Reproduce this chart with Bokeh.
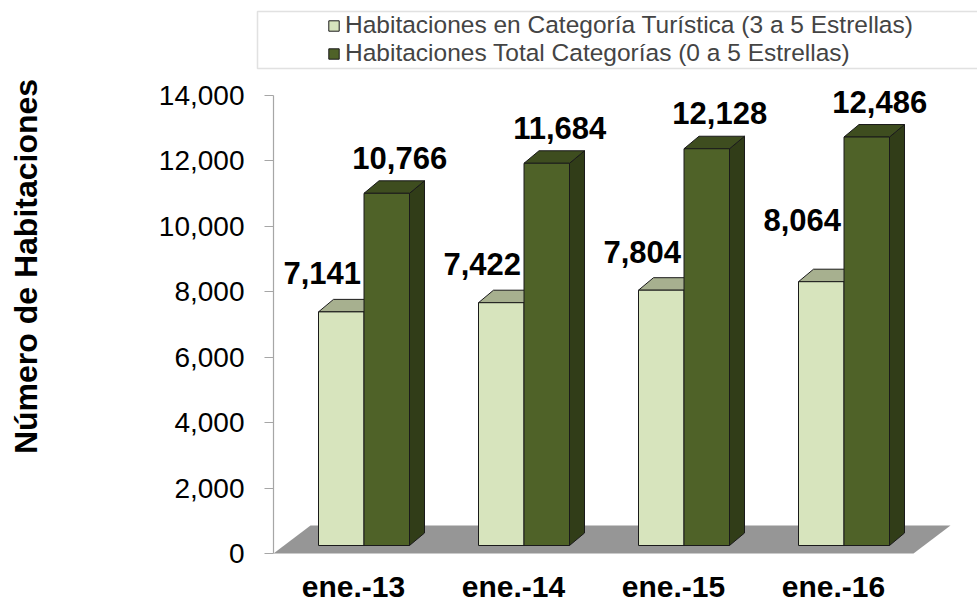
from bokeh.plotting import figure
from bokeh.models import (ColumnDataSource, FixedTicker, NumeralTickFormatter, Legend,
                          LegendItem, BoxAnnotation, Range1d)
from bokeh.core.properties import value
from bokeh.embed import file_html
from bokeh.resources import INLINE

# ---------------- data ----------------
categories = ["ene.-13", "ene.-14", "ene.-15", "ene.-16"]
turistica = [7141, 7422, 7804, 8064]
total = [10766, 11684, 12128, 12486]
series_names = ["Habitaciones en Categoría Turística (3 a 5 Estrellas)",
                "Habitaciones Total Categorías (0 a 5 Estrellas)"]
y_ticks = [0, 2000, 4000, 6000, 8000, 10000, 12000, 14000]
y_title = "Número de Habitaciones"

# ---------------- layout / style (pixels) ----------------
W, H = 977, 603
AXIS_X = 273              # px of the value axis line (x = 0)
ZERO_Y = 553              # px of y = 0
PX_X = 160.0              # px per category
PX_Y = 458.0 / 14000.0    # px per unit of value

x_start = -AXIS_X / PX_X
x_end = (W - AXIS_X) / PX_X
y_start = -(H - ZERO_Y) / PX_Y
y_end = ZERO_Y / PX_Y


def dx(px):
    return px / PX_X


def dy(px):
    return px / PX_Y


BAR_W = dx(45.5)
OFF_X, OFF_Y = dx(10.5), dy(8)
DEP_X, DEP_Y = dx(15), dy(12.5)
FLOOR_X, FLOOR_Y = dx(37), dy(28)

FONT = "Liberation Sans"
colors = {
    0: dict(front="#d7e4bd", top="#a7b08f", side="#98a183"),
    1: dict(front="#4f6228", top="#3e4d1f", side="#313d18"),
}
EDGE = "#1a1a1a"
AXIS_GREY = "#a6a6a6"
label_dx_px = {0: -19, 1: 13}
label_mid_px = {0: 38.5, 1: 35.5}
extra_lift_px = {0: [0, 0, 0, 23], 1: [0, 0, 0, 0]}

p = figure(width=W, height=H, x_range=Range1d(x_start, x_end), y_range=Range1d(y_start, y_end),
           output_backend="svg", toolbar_location=None, x_axis_location=None,
           min_border_left=0, min_border_right=0, min_border_top=0,
           min_border_bottom=0)
p.grid.visible = False
p.outline_line_color = None
p.background_fill_color = "white"
p.border_fill_color = "white"

n = len(categories)

# floor
p.patch([0, n, n + FLOOR_X, FLOOR_X], [0, 0, FLOOR_Y, FLOOR_Y],
        fill_color="#969696", line_color=None)

front_renderers = []
for s, vals in enumerate([turistica, total]):
    lefts = [i + 0.5 + OFF_X + (s - 1) * BAR_W for i in range(n)]
    rights = [l + BAR_W for l in lefts]
    bottoms = [OFF_Y] * n
    tops = [OFF_Y + v for v in vals]
    side_xs = [[r, r + DEP_X, r + DEP_X, r] for r in rights]
    side_ys = [[b, b + DEP_Y, t + DEP_Y, t] for b, t in zip(bottoms, tops)]
    top_xs = [[l, r, r + DEP_X, l + DEP_X] for l, r in zip(lefts, rights)]
    top_ys = [[t, t, t + DEP_Y, t + DEP_Y] for t in tops]
    c = colors[s]
    p.patches(side_xs, side_ys, fill_color=c["side"], line_color=EDGE, line_width=1)
    p.patches(top_xs, top_ys, fill_color=c["top"], line_color=EDGE, line_width=1)
    src = ColumnDataSource(dict(left=lefts, right=rights, bottom=bottoms, top=tops))
    r = p.quad(left="left", right="right", bottom="bottom", top="top", source=src,
               fill_color=c["front"], line_color=EDGE, line_width=1)
    front_renderers.append(r)
    # value labels
    lx = [(l + r_) / 2 + dx(label_dx_px[s]) for l, r_ in zip(lefts, rights)]
    ly = [t + dy(label_mid_px[s] + e) for t, e in zip(tops, extra_lift_px[s])]
    p.text(x=lx, y=ly, text=[f"{v:,}" for v in vals], text_font=value(FONT),
           text_font_style="bold", text_font_size="31px", text_color="black",
           text_align="center", text_baseline="middle")

# category labels
p.text(x=[i + 0.5 for i in range(n)], y=[-dy(33)] * n, text=categories,
       text_font=value(FONT), text_font_style="bold", text_font_size="30px",
       text_color="black", text_align="center", text_baseline="middle")

# y axis drawn at x = 0
ax = p.yaxis[0]
ax.fixed_location = 0
ax.bounds = (min(y_ticks), max(y_ticks))
ax.ticker = FixedTicker(ticks=y_ticks)
ax.formatter = NumeralTickFormatter(format="0,0")
ax.axis_line_color = AXIS_GREY
ax.axis_line_width = 1.2
ax.major_tick_line_color = AXIS_GREY
ax.major_tick_line_width = 1.2
ax.major_tick_out = 9
ax.major_tick_in = 0
ax.minor_tick_line_color = None
ax.major_label_standoff = 20
ax.major_label_text_font = FONT
ax.major_label_text_font_size = "28px"
ax.major_label_text_color = "black"

# y title
p.text(x=[dx(25 - AXIS_X)], y=[dy(ZERO_Y - 266)], text=[y_title], angle=90, angle_units="deg",
       text_font=value(FONT), text_font_style="bold", text_font_size="32px",
       text_color="black", text_align="center", text_baseline="middle")

# legend box + legend
p.add_layout(BoxAnnotation(left=dx(257 - AXIS_X), right=x_end + 1,
                           top=dy(ZERO_Y - 11), bottom=dy(ZERO_Y - 68),
                           fill_alpha=0, line_color="#9a9a9a", line_width=1.5))
legend = Legend(items=[LegendItem(label=series_names[i], renderers=[front_renderers[i]])
                       for i in range(2)],
                location=(327, H - 67), padding=0, margin=0, spacing=0,
                glyph_width=13, glyph_height=13, label_standoff=5,
                label_text_font=FONT, label_text_font_size="24.5px",
                border_line_alpha=0, background_fill_alpha=0)
p.add_layout(legend)

open("out.html", "w").write(file_html(p, INLINE))
